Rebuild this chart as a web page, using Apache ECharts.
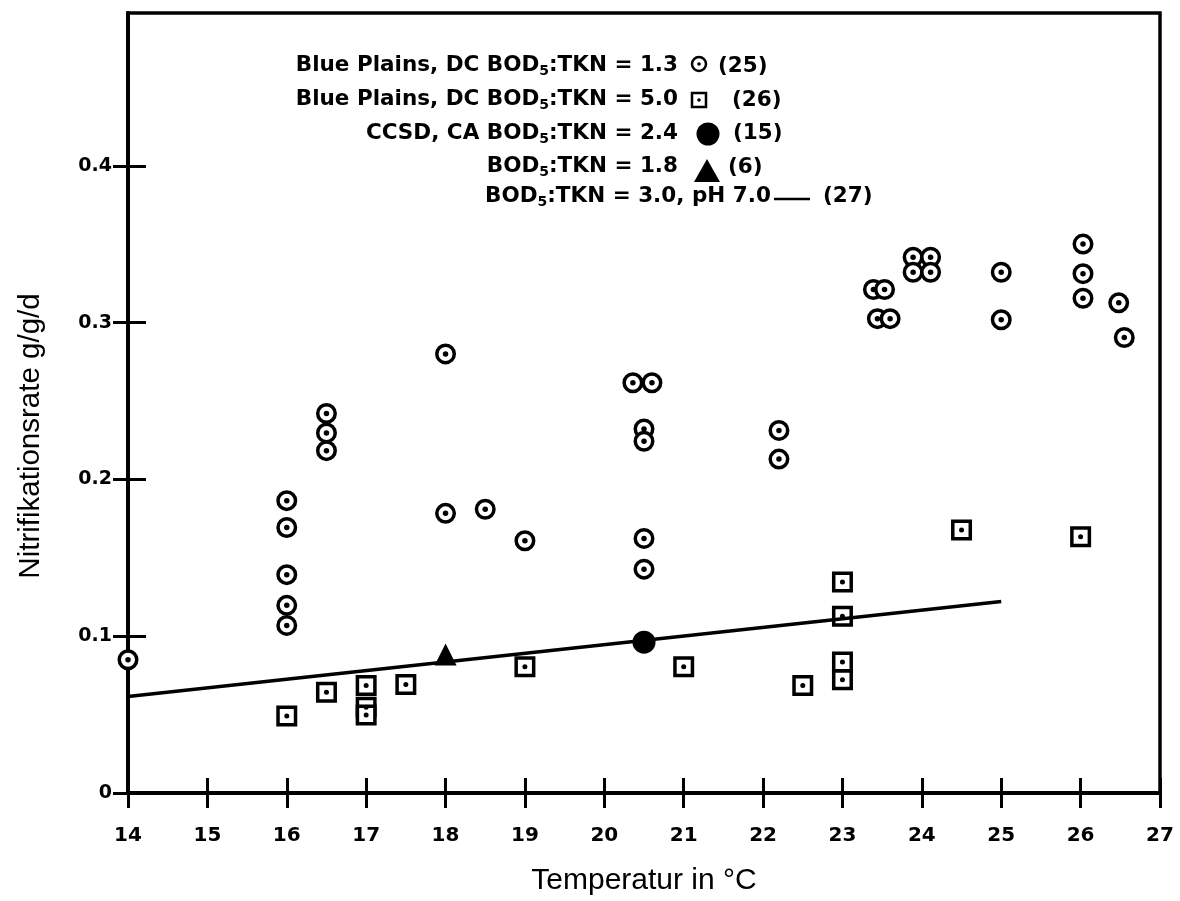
<!DOCTYPE html>
<html>
<head>
<meta charset="utf-8">
<script src="https://cdn.jsdelivr.net/npm/echarts@6/dist/echarts.min.js"></script>
<style>
html,body{margin:0;padding:0;background:#fff;}
#chart{width:1180px;height:901px;}
</style>
</head>
<body>
<div id="chart"></div>
<script>
// ---- data ----
const xTickValues = [14, 15, 16, 17, 18, 19, 20, 21, 22, 23, 24, 25, 26, 27];
const yTickValues = [0, 0.1, 0.2, 0.3, 0.4];

// Blue Plains, DC BOD5:TKN = 1.3 (25) - ring with dot
const bluePlains13 = [
  [14.0, 0.085],
  [16.0, 0.1865], [16.0, 0.1694], [16.0, 0.1393], [16.0, 0.1197], [16.0, 0.1069],
  [16.5, 0.2421], [16.5, 0.2297], [16.5, 0.2184],
  [18.0, 0.2801], [18.0, 0.1784],
  [18.5, 0.181],
  [19.0, 0.1609],
  [20.36, 0.2617], [20.6, 0.2617],
  [20.5, 0.2322], [20.5, 0.2244],
  [20.5, 0.1624], [20.5, 0.1428],
  [22.2, 0.2313], [22.2, 0.2130],
  [23.39, 0.3212], [23.53, 0.3212],
  [23.44, 0.3026], [23.6, 0.3026],
  [23.89, 0.3418], [24.11, 0.3418], [23.89, 0.3322], [24.11, 0.3322],
  [25.0, 0.3322], [25.0, 0.3019],
  [26.03, 0.3502], [26.03, 0.3313], [26.03, 0.3156],
  [26.48, 0.3127], [26.55, 0.2906]
];

// Blue Plains, DC BOD5:TKN = 5.0 (26) - square with dot
const bluePlains50 = [
  [16.0, 0.0491],
  [16.5, 0.0642],
  [17.0, 0.0686], [17.0, 0.0547], [17.0, 0.0497],
  [17.5, 0.0692],
  [19.0, 0.0805],
  [21.0, 0.0805],
  [22.5, 0.0686],
  [23.0, 0.1346], [23.0, 0.1128], [23.0, 0.0836], [23.0, 0.0723],
  [24.5, 0.1678],
  [26.0, 0.1635]
];

// CCSD, CA BOD5:TKN = 2.4 (15) - filled circle
const ccsd24 = [[20.5, 0.0962]];

// BOD5:TKN = 1.8 (6) - filled triangle
const bod18 = [[18.0, 0.0884]];

// BOD5:TKN = 3.0, pH 7.0 (27) - line
const fitLine30 = [[14.0, 0.0616], [25.0, 0.1222]];

// ---- chart ----
const chart = echarts.init(document.getElementById('chart'), null, {renderer: 'canvas'});
const TICK_FONT = 'DejaVu Sans';
const TITLE_FONT = 'Liberation Sans';
const Y_MAX = 0.4976;

const legendRich = {
  s: {fontFamily: TICK_FONT, fontWeight: 'bold', fontSize: 14, padding: [13, 0, 0, 0], fill: '#000', color: '#000'}
};
function legendText(x, y, text, align) {
  return {
    type: 'text', x: x, y: y, silent: true,
    style: {
      text: text, rich: legendRich,
      fontFamily: TICK_FONT, fontWeight: 'bold', fontSize: 21.5, fill: '#000',
      align: align, textAlign: align, verticalAlign: 'middle', textVerticalAlign: 'middle'
    }
  };
}

const option = {
  animation: false,
  backgroundColor: '#fff',
  grid: {
    left: 128, right: 20, top: 13, bottom: 108,
    show: true, borderColor: '#000', borderWidth: 3.5, backgroundColor: 'transparent'
  },
  xAxis: [
    {
      type: 'value', min: 14, max: 27, interval: 1, position: 'bottom',
      axisLine: {show: true, onZero: false, lineStyle: {color: '#000', width: 4}},
      axisTick: {show: true, inside: false, length: 15, lineStyle: {color: '#000', width: 3}},
      axisLabel: {color: '#000', fontFamily: TICK_FONT, fontWeight: 'bold', fontSize: 20, margin: 33},
      splitLine: {show: false},
      name: 'Temperatur in °C', nameLocation: 'middle', nameGap: 73,
      nameTextStyle: {fontFamily: TITLE_FONT, fontSize: 30, color: '#000'}
    },
    {
      type: 'value', min: 14, max: 27, interval: 1, position: 'bottom',
      axisLine: {show: false},
      axisTick: {show: true, inside: true, length: 15, lineStyle: {color: '#000', width: 3}},
      axisLabel: {show: false},
      splitLine: {show: false}
    }
  ],
  yAxis: [
    {
      type: 'value', min: 0, max: Y_MAX, interval: 0.1, position: 'left',
      axisLine: {show: true, onZero: false, lineStyle: {color: '#000', width: 4}},
      axisTick: {show: true, inside: false, length: 15, customValues: yTickValues, lineStyle: {color: '#000', width: 3}},
      axisLabel: {
        color: '#000', fontFamily: TICK_FONT, fontWeight: 'bold', fontSize: 19, margin: 16,
        customValues: yTickValues,
        formatter: function (v) { if (v > 0.45) return ''; return v === 0 ? '0' : v.toFixed(1); }
      },
      splitLine: {show: false},
      name: 'Nitrifikationsrate g/g/d', nameLocation: 'middle', nameGap: 82,
      nameTextStyle: {fontFamily: TITLE_FONT, fontSize: 29.5, color: '#000', padding: [0, 66, 0, 0]}
    },
    {
      type: 'value', min: 0, max: Y_MAX, interval: 0.1, position: 'left',
      axisLine: {show: false},
      axisTick: {show: true, inside: true, length: 18, customValues: yTickValues, lineStyle: {color: '#000', width: 3}},
      axisLabel: {show: false},
      splitLine: {show: false}
    }
  ],
  series: [
    {
      type: 'scatter', name: 'Blue Plains 5.0', data: bluePlains50, symbol: 'rect', symbolSize: 17.5,
      itemStyle: {color: '#fff', borderColor: '#000', borderWidth: 3.5, opacity: 1}, z: 2
    },
    {
      type: 'scatter', name: 'Blue Plains 5.0 dot', data: bluePlains50, symbol: 'circle', symbolSize: 5,
      itemStyle: {color: '#000', opacity: 1}, z: 3
    },
    {
      type: 'line', name: 'BOD5:TKN 3.0', data: fitLine30, symbol: 'none',
      lineStyle: {color: '#000', width: 3.5}, z: 4
    },
    {
      type: 'scatter', name: 'Blue Plains 1.3', data: bluePlains13, symbol: 'circle', symbolSize: 17.5,
      itemStyle: {color: '#fff', borderColor: '#000', borderWidth: 3.5, opacity: 1}, z: 5
    },
    {
      type: 'scatter', name: 'Blue Plains 1.3 dot', data: bluePlains13, symbol: 'circle', symbolSize: 5.5,
      itemStyle: {color: '#000', opacity: 1}, z: 6
    },
    {
      type: 'scatter', name: 'CCSD 2.4', data: ccsd24, symbol: 'circle', symbolSize: 23,
      itemStyle: {color: '#000', opacity: 1}, z: 7
    },
    {
      type: 'scatter', name: 'BOD5:TKN 1.8', data: bod18, symbol: 'triangle', symbolSize: [22, 22],
      itemStyle: {color: '#000', opacity: 1}, z: 7
    }
  ],
  graphic: [
    legendText(678, 65, 'Blue Plains, DC BOD{s|5}:TKN = 1.3', 'right'),
    {type: 'circle', shape: {cx: 699, cy: 64, r: 7}, style: {fill: '#fff', stroke: '#000', lineWidth: 2.5}},
    {type: 'circle', shape: {cx: 699, cy: 64, r: 1.8}, style: {fill: '#000'}},
    legendText(718, 66, '(25)', 'left'),

    legendText(678, 99, 'Blue Plains, DC BOD{s|5}:TKN = 5.0', 'right'),
    {type: 'rect', shape: {x: 692, y: 93, width: 14, height: 14}, style: {fill: '#fff', stroke: '#000', lineWidth: 2.5}},
    {type: 'circle', shape: {cx: 699, cy: 100, r: 1.8}, style: {fill: '#000'}},
    legendText(732, 100, '(26)', 'left'),

    legendText(678, 133, 'CCSD, CA BOD{s|5}:TKN = 2.4', 'right'),
    {type: 'circle', shape: {cx: 708, cy: 134, r: 11.5}, style: {fill: '#000'}},
    legendText(733, 133, '(15)', 'left'),

    legendText(678, 166, 'BOD{s|5}:TKN = 1.8', 'right'),
    {type: 'polygon', shape: {points: [[694, 182], [720, 182], [707, 159]]}, style: {fill: '#000'}},
    legendText(728, 167, '(6)', 'left'),

    legendText(485, 196, 'BOD{s|5}:TKN = 3.0, pH 7.0', 'left'),
    {type: 'line', shape: {x1: 774, y1: 199, x2: 810, y2: 199}, style: {stroke: '#000', lineWidth: 2.5}},
    legendText(823, 196, '(27)', 'left')
  ]
};
chart.setOption(option);
</script>
</body>
</html>
